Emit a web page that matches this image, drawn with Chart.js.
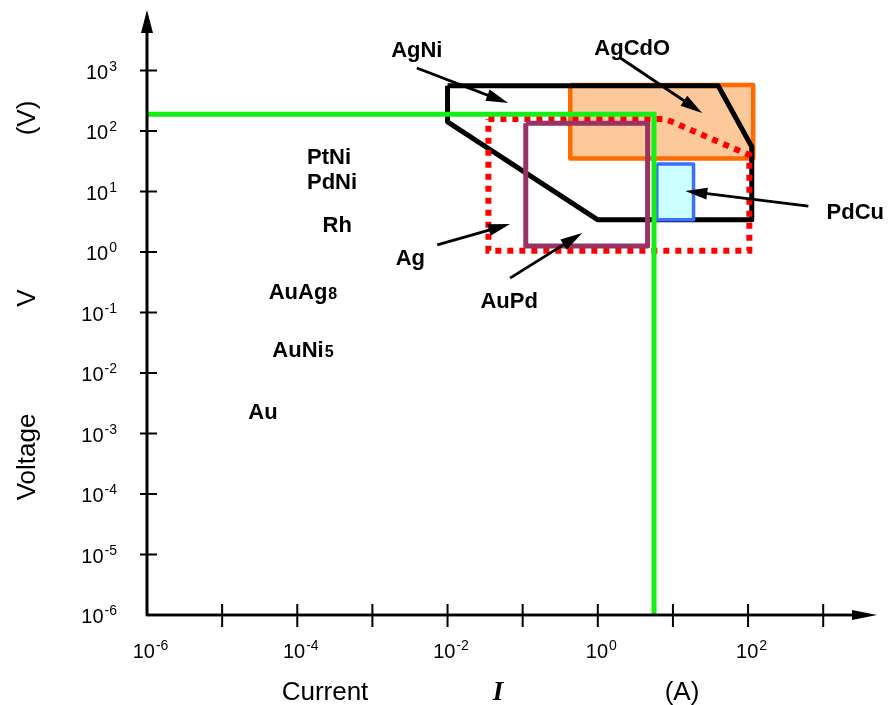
<!DOCTYPE html>
<html>
<head>
<meta charset="utf-8">
<script src="https://cdn.jsdelivr.net/npm/chart.js@4.4.0/dist/chart.umd.min.js"></script>
<style>
  body { margin: 0; background: #fff; }
  #wrap { width: 888px; height: 705px; }
</style>
</head>
<body>
<div id="wrap"><canvas id="contactChart" width="888" height="705"></canvas></div>
<script>
// axis ticks (decades) and their exponent labels
const currentTicks = [1e-6, 1e-5, 1e-4, 1e-3, 1e-2, 1e-1, 1e0, 1e1, 1e2, 1e3];
const currentTickExp = ['-6', '', '-4', '', '-2', '', '0', '', '2', ''];
const voltageTicks = [1e-6, 1e-5, 1e-4, 1e-3, 1e-2, 1e-1, 1e0, 1e1, 1e2, 1e3];
const voltageTickExp = ['-6', '-5', '-4', '-3', '-2', '-1', '0', '1', '2', '3'];

// material regions, current (A) / voltage (V)
const agNiI = [0.01, 40, 112, 112, 1, 0.01, 0.01];
const agNiV = [560, 560, 55, 3.4, 3.4, 142, 560];

const agCdOI = [0.43, 117, 117, 0.43, 0.43];
const agCdOV = [575, 575, 35, 35, 575];

const agI = [0.035, 7.9, 104, 104, 0.035, 0.035];
const agV = [158, 158, 40, 1.05, 1.05, 158];

const auPdI = [0.11, 4.6, 4.6, 0.11, 0.11];
const auPdV = [134, 134, 1.26, 1.26, 134];

const pdCuI = [6.1, 18.8, 18.8, 6.1, 6.1];
const pdCuV = [28.5, 28.5, 3.4, 3.4, 28.5];

// limit line
const limitI = [1e-6, 5.6, 5.6];
const limitV = [190, 190, 1e-6];

// text labels and where they sit
const labelText = ['AgNi', 'AgCdO', 'PdCu', 'Ag', 'AuPd', 'PtNi', 'PdNi', 'Rh', 'AuAg', 'AuNi', 'Au'];
const labelSmall = ['', '', '', '', '', '', '', '', '8', '5', ''];
const labelI = [3.9e-3, 2.87, 2673, 3.2e-3, 0.066, 2.65e-4, 2.9e-4, 3.4e-4, 1.19e-4, 1.19e-4, 3.5e-5];
const labelV = [2300, 2400, 4.76, 0.83, 0.161, 38.6, 14.9, 2.9, 0.226, 0.0249, 2.35e-3];

// pointer arrows: tail -> head
const arrowFromI = [3.9e-3, 2.0, 634, 7.3e-3, 0.068];
const arrowFromV = [1100, 1610, 5.75, 1.31, 0.37];
const arrowToI = [0.064, 24.5, 14.6, 0.068, 0.62];
const arrowToV = [290, 199, 10.2, 2.9, 2.06];

function toPoints(xs, ys) {
  return xs.map((x, i) => ({ x: x, y: ys[i] }));
}

function arrowLine(ctx, x1, y1, x2, y2, width, headLen, headHalf) {
  const ang = Math.atan2(y2 - y1, x2 - x1);
  const bx = x2 - Math.cos(ang) * headLen;
  const by = y2 - Math.sin(ang) * headLen;
  ctx.lineWidth = width;
  ctx.beginPath();
  ctx.moveTo(x1, y1);
  ctx.lineTo(bx + Math.cos(ang) * 2, by + Math.sin(ang) * 2);
  ctx.stroke();
  ctx.beginPath();
  ctx.moveTo(x2, y2);
  ctx.lineTo(bx - Math.sin(ang) * headHalf, by + Math.cos(ang) * headHalf);
  ctx.lineTo(bx + Math.sin(ang) * headHalf, by - Math.cos(ang) * headHalf);
  ctx.closePath();
  ctx.fill();
}

// "10" with a raised exponent
function drawPower(ctx, exp, x, baseline, align) {
  ctx.font = '20px "Liberation Sans", Arial, sans-serif';
  const wBase = ctx.measureText('10').width;
  ctx.font = '14px "Liberation Sans", Arial, sans-serif';
  const wExp = ctx.measureText(exp).width;
  let left = x - (wBase + wExp) / 2;
  if (align === 'right') left = x - wBase - wExp;
  ctx.textAlign = 'left';
  ctx.textBaseline = 'alphabetic';
  ctx.font = '20px "Liberation Sans", Arial, sans-serif';
  ctx.fillText('10', left, baseline);
  ctx.font = '14px "Liberation Sans", Arial, sans-serif';
  ctx.fillText(exp, left + wBase + 1, baseline - 8);
}

const overlay = {
  id: 'overlay',
  afterDatasetsDraw(chart) {
    const { ctx, chartArea: a, scales: { x, y } } = chart;
    ctx.save();
    ctx.fillStyle = '#000';
    ctx.strokeStyle = '#000';
    ctx.lineCap = 'butt';

    // pointer arrows
    for (let i = 0; i < arrowFromI.length; i++) {
      arrowLine(ctx,
        x.getPixelForValue(arrowFromI[i]), y.getPixelForValue(arrowFromV[i]),
        x.getPixelForValue(arrowToI[i]), y.getPixelForValue(arrowToV[i]),
        2.8, 22, 6);
    }

    // material names
    for (let i = 0; i < labelText.length; i++) {
      const px = x.getPixelForValue(labelI[i]);
      const py = y.getPixelForValue(labelV[i]);
      ctx.font = 'bold 22px "Liberation Sans", Arial, sans-serif';
      const w1 = ctx.measureText(labelText[i]).width;
      ctx.font = 'bold 16px "Liberation Sans", Arial, sans-serif';
      const w2 = labelSmall[i] ? ctx.measureText(labelSmall[i]).width + 1 : 0;
      const left = px - (w1 + w2) / 2;
      ctx.textAlign = 'left';
      ctx.textBaseline = 'alphabetic';
      ctx.font = 'bold 22px "Liberation Sans", Arial, sans-serif';
      ctx.fillText(labelText[i], left, py + 8);
      if (labelSmall[i]) {
        ctx.font = 'bold 16px "Liberation Sans", Arial, sans-serif';
        ctx.fillText(labelSmall[i], left + w1 + 1, py + 8);
      }
    }

    // axes with arrow heads
    const x0 = x.getPixelForValue(currentTicks[0]);
    const y0 = y.getPixelForValue(voltageTicks[0]);
    ctx.lineWidth = 2.6;
    ctx.beginPath();
    ctx.moveTo(x0, a.top + 20);
    ctx.lineTo(x0, y0);
    ctx.lineTo(a.right - 20, y0);
    ctx.stroke();
    arrowLine(ctx, x0, y0, x0, a.top, 2.6, 23, 6);
    arrowLine(ctx, x0, y0, a.right, y0, 2.6, 25, 5);

    // tick marks + labels
    ctx.lineWidth = 2;
    currentTicks.forEach((v, i) => {
      const px = x.getPixelForValue(v);
      if (i > 0) {
        ctx.beginPath();
        ctx.moveTo(px, y0 - 11);
        ctx.lineTo(px, y0 + 12);
        ctx.stroke();
      }
      if (currentTickExp[i]) drawPower(ctx, currentTickExp[i], px + 3, y0 + 43, 'center');
    });
    voltageTicks.forEach((v, i) => {
      const py = y.getPixelForValue(v);
      if (i > 0) {
        ctx.beginPath();
        ctx.moveTo(x0 - 7, py);
        ctx.lineTo(x0 + 10, py);
        ctx.stroke();
      }
      drawPower(ctx, voltageTickExp[i], x0 - 31, py + 8, 'right');
    });

    // axis titles
    ctx.textAlign = 'center';
    ctx.textBaseline = 'middle';
    ctx.font = '26px "Liberation Sans", Arial, sans-serif';
    ctx.fillText('Current', 325, 693);
    ctx.fillText('(A)', 682, 693);
    ctx.font = 'bold italic 27px "Liberation Serif", serif';
    ctx.fillText('I', 498, 693);

    ctx.font = '26px "Liberation Sans", Arial, sans-serif';
    [['(V)', 118], ['V', 298], ['Voltage', 457]].forEach(([t, cy]) => {
      ctx.save();
      ctx.translate(28, cy);
      ctx.rotate(-Math.PI / 2);
      ctx.fillText(t, 0, 0);
      ctx.restore();
    });

    ctx.restore();
  }
};

const regionLine = {
  showLine: true,
  pointRadius: 0,
  pointHoverRadius: 0,
  tension: 0,
  borderJoinStyle: 'round',
  borderCapStyle: 'butt'
};

new Chart(document.getElementById('contactChart'), {
  type: 'scatter',
  data: {
    datasets: [
      Object.assign({}, regionLine, {
        label: 'limit',
        data: toPoints(limitI, limitV),
        borderColor: '#14f014',
        borderWidth: 5,
        borderJoinStyle: 'miter',
        fill: false
      }),
      Object.assign({}, regionLine, {
        label: 'AuPd',
        data: toPoints(auPdI, auPdV),
        borderColor: '#993366',
        borderWidth: 5,
        fill: false
      }),
      Object.assign({}, regionLine, {
        label: 'Ag',
        data: toPoints(agI, agV),
        borderColor: '#ff0000',
        borderWidth: 6,
        borderDash: [6, 6],
        borderJoinStyle: 'miter',
        fill: false
      }),
      Object.assign({}, regionLine, {
        label: 'PdCu',
        data: toPoints(pdCuI, pdCuV),
        borderColor: '#3a6fff',
        backgroundColor: '#ccffff',
        borderWidth: 3.5,
        fill: 'shape'
      }),
      Object.assign({}, regionLine, {
        label: 'AgNi',
        data: toPoints(agNiI, agNiV),
        borderColor: '#000000',
        borderWidth: 5,
        fill: false
      }),
      Object.assign({}, regionLine, {
        label: 'AgCdO',
        data: toPoints(agCdOI, agCdOV),
        borderColor: '#ff6a00',
        backgroundColor: '#fdc99b',
        borderWidth: 4.5,
        fill: 'shape'
      })
    ]
  },
  options: {
    responsive: false,
    animation: false,
    events: [],
    layout: { padding: { left: 147, right: 11, top: 10, bottom: 90 } },
    scales: {
      x: { type: 'logarithmic', display: false, min: 1e-6, max: 5200 },
      y: { type: 'logarithmic', display: false, min: 1e-6, max: 1e4 }
    },
    plugins: {
      legend: { display: false },
      tooltip: { enabled: false }
    }
  },
  plugins: [overlay]
});
</script>
</body>
</html>
